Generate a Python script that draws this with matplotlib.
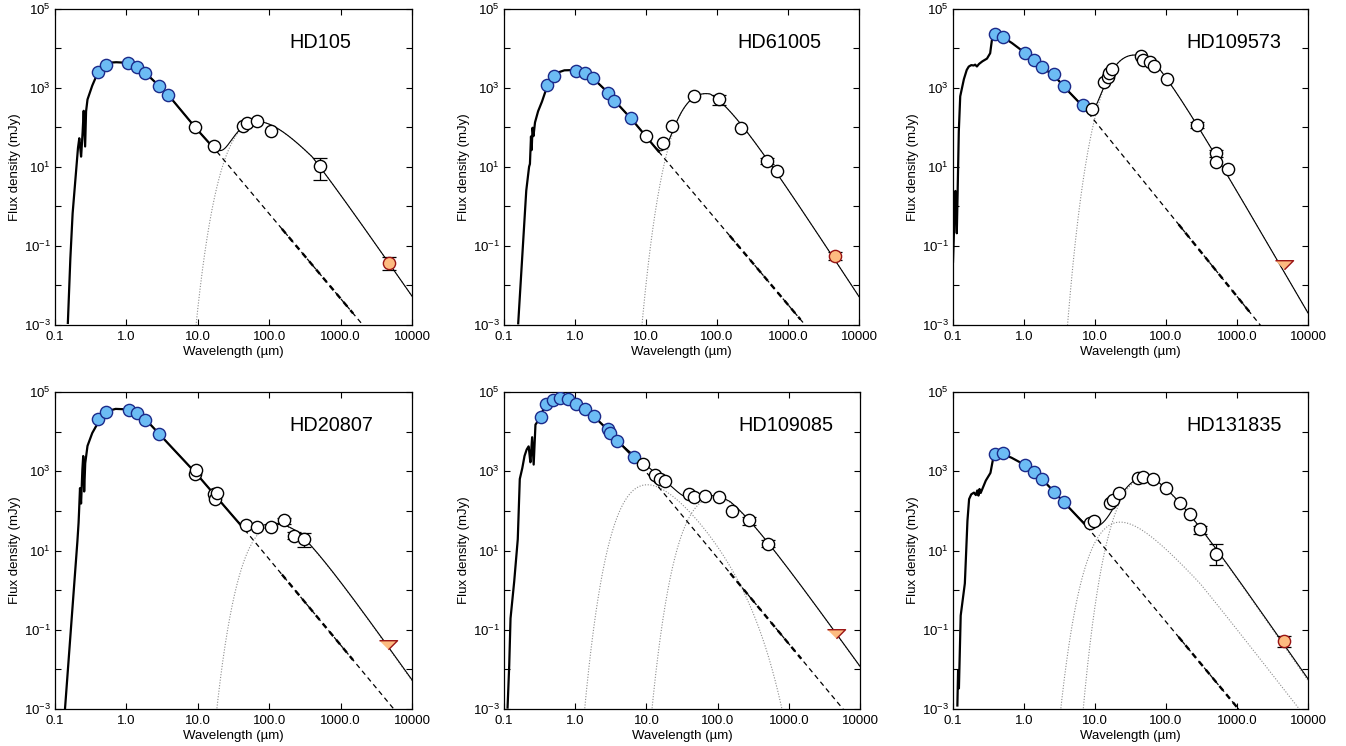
import numpy as np
import matplotlib
matplotlib.use("Agg")
import matplotlib.pyplot as plt
from matplotlib.ticker import FixedLocator, NullLocator, FixedFormatter

plt.rcParams['font.family'] = ['Liberation Sans', 'DejaVu Sans']
plt.rcParams['mathtext.fontset'] = 'custom'
plt.rcParams['mathtext.rm'] = 'Liberation Sans'
plt.rcParams['mathtext.it'] = 'Liberation Sans:italic'
plt.rcParams['mathtext.bf'] = 'Liberation Sans:bold'
plt.rcParams['mathtext.default'] = 'regular'

# ------------------------------------------------------------------ data
x_ticks = [0.1, 1, 10, 100, 1000, 10000]
x_ticklabels = ['0.1', '1.0', '10.0', '100.0', '1000.0', '10000']
y_ticks = [1e-3, 1e-2, 1e-1, 1e0, 1e1, 1e2, 1e3, 1e4, 1e5]
y_ticklabels = ['$10^{-3}$', '', '$10^{-1}$', '', '$10^{1}$', '', '$10^{3}$', '', '$10^{5}$']

# ---- HD105
hd105_opt_wl = [0.40, 0.51, 1.07, 1.43, 1.85, 2.85, 3.85]
hd105_opt_fx = [2590, 3820, 4220, 3470, 2360, 1150, 665]
hd105_ir_wl = [9.0, 16.6, 42.4, 48.8, 68, 107, 521]
hd105_ir_fx = [105, 34, 109, 128, 149, 81.5, 10.8]
hd105_err_wl = [521]
hd105_err_lo = [4.7]
hd105_err_hi = [16.6]
hd105_mm = [4730, 0.038, 0.0247, 0.052, 0]   # wl, flux, lo, hi, upper-limit flag
hd105_star_wl = [0.151, 0.162, 0.175, 0.191, 0.208, 0.219, 0.232, 0.242, 0.252, 0.264, 0.272,
                 0.284, 0.327, 0.384, 0.45, 0.55, 0.7, 0.9, 1.07, 1.43, 1.85, 2.85, 3.85, 9.0,
                 18.5, 2050]
hd105_star_fx = [1e-3, 0.03, 0.55, 3.9, 27, 54, 18, 59, 276, 32, 250,
                 500, 1070, 2140, 3700, 4350, 4500, 4420, 4250, 3450, 2400, 1150, 670, 105,
                 24.5, 1e-3]
hd105_dust_T = [74]
hd105_dust_lam0 = [400]
hd105_dust_beta = [0.6]
hd105_dust_cut = [0]
hd105_dust_peak = [140]
hd105_dash_from = 18.5

# ---- HD61005
hd61005_opt_wl = [0.40, 0.51, 1.045, 1.38, 1.81, 2.94, 3.6, 6.18]
hd61005_opt_fx = [1190, 2010, 2740, 2360, 1760, 760, 477, 171]
hd61005_ir_wl = [10.0, 17.5, 23.5, 47.7, 105, 216, 510, 697]
hd61005_ir_fx = [62, 41, 109, 627, 518, 95, 14.5, 7.9]
hd61005_err_wl = [105, 510]
hd61005_err_lo = [372, 12]
hd61005_err_hi = [665, 17]
hd61005_mm = [4530, 0.057, 0.043, 0.072, 0]
hd61005_star_wl = [0.158, 0.177, 0.204, 0.225, 0.232, 0.240, 0.245, 0.252, 0.26, 0.272, 0.30,
                   0.338, 0.397, 0.45, 0.55, 0.7, 0.9, 1.045, 1.38, 1.81, 2.94, 3.6, 6.18,
                   15.1, 1667]
hd61005_star_fx = [1e-3, 0.03, 2.2, 10, 12, 60, 25, 100, 60, 130, 250,
                   420, 1000, 1700, 2400, 2800, 2850, 2750, 2330, 1740, 760, 480, 168,
                   24.4, 1.1e-3]
hd61005_dust_T = [73]
hd61005_dust_lam0 = [80]
hd61005_dust_beta = [0.75]
hd61005_dust_cut = [0]
hd61005_dust_peak = [720]
hd61005_dash_from = 15.0

# ---- HD109573
hd109573_opt_wl = [0.39, 0.50, 1.035, 1.37, 1.80, 2.67, 3.62, 6.7]
hd109573_opt_fx = [23300, 19900, 7830, 5120, 3340, 2220, 1140, 365]
hd109573_ir_wl = [8.96, 13.3, 15.0, 15.7, 17.1, 44.2, 48.2, 60.4, 67.1, 103, 276, 510, 499, 743]
hd109573_ir_fx = [289, 1440, 1870, 2440, 3030, 6460, 5110, 4640, 3610, 1690, 116, 22.2, 13.6, 8.7]
hd109573_err_wl = [276, 510]
hd109573_err_lo = [95, 18]
hd109573_err_hi = [140, 27]
hd109573_mm = [4540, 0.036, 0, 0, 1]
hd109573_star_wl = [0.100, 0.104, 0.108, 0.111, 0.113, 0.115, 0.12, 0.126, 0.141, 0.155, 0.166,
                    0.180, 0.195, 0.205, 0.217, 0.23, 0.255, 0.30, 0.334, 0.353, 0.393, 0.42,
                    0.5, 0.65, 0.8, 1.035, 1.37, 1.8, 2.67, 3.62, 6.7, 2120]
hd109573_star_fx = [0.04, 0.4, 2.5, 1.0, 0.2, 0.8, 60, 600, 1580, 2800, 3470,
                    3800, 3700, 3900, 3500, 4000, 4650, 5500, 7600, 16600, 18300, 21000,
                    19500, 14500, 11000, 7700, 5000, 3300, 2050, 1100, 350, 1e-3]
hd109573_dust_T = [140]
hd109573_dust_lam0 = [65]
hd109573_dust_beta = [1.1]
hd109573_dust_cut = [0]
hd109573_dust_peak = [6840]
hd109573_dash_from = 8.0

# ---- HD20807
hd20807_opt_wl = [0.40, 0.51, 1.08, 1.43, 1.85, 2.89]
hd20807_opt_fx = [20800, 31300, 35100, 29500, 20000, 8690]
hd20807_ir_wl = [9.0, 9.4, 16.6, 17.5, 18.5, 47.7, 68, 107, 161, 223, 311]
hd20807_ir_fx = [850, 1090, 265, 202, 281, 42.8, 38.1, 40.3, 57.3, 23.9, 19.7]
hd20807_err_wl = [161, 223, 311]
hd20807_err_lo = [48, 19.5, 12.2]
hd20807_err_hi = [68, 29, 27.5]
hd20807_mm = [4630, 0.043, 0, 0, 1]
hd20807_star_wl = [0.138, 0.162, 0.197, 0.212, 0.215, 0.224, 0.232, 0.240, 0.249, 0.256, 0.264,
                   0.284, 0.33, 0.385, 0.45, 0.55, 0.7, 0.9, 1.08, 1.43, 1.85, 2.89, 9.0,
                   47.7, 5560]
hd20807_star_fx = [1e-3, 0.048, 5.3, 37, 60, 380, 150, 900, 2600, 300, 1500,
                   4270, 9000, 14900, 24000, 33000, 37500, 37000, 35000, 29000, 20500, 8700, 985,
                   30, 1e-3]
hd20807_dust_T = [40.5]
hd20807_dust_lam0 = [250]
hd20807_dust_beta = [0.55]
hd20807_dust_cut = [0]
hd20807_dust_peak = [45]
hd20807_dash_from = 45.0

# ---- HD109085
hd109085_opt_wl = [0.327, 0.394, 0.489, 0.620, 0.793, 1.04, 1.37, 1.82, 2.86, 3.12, 3.92, 6.70]
hd109085_opt_fx = [22900, 49700, 64000, 70200, 67700, 50700, 37200, 24200, 11600, 9230, 5890, 2230]
hd109085_ir_wl = [8.96, 13.4, 15.7, 18.1, 39.6, 46.7, 65.9, 103, 158, 276, 510]
hd109085_ir_fx = [1520, 817, 647, 576, 271, 218, 240, 218, 96.7, 57.3, 14.8]
hd109085_err_wl = [276, 510]
hd109085_err_lo = [45, 12]
hd109085_err_hi = [72, 18]
hd109085_mm = [4560, 0.085, 0, 0, 1]
hd109085_star_wl = [0.112, 0.118, 0.123, 0.137, 0.156, 0.166, 0.179, 0.193, 0.207, 0.222, 0.235,
                    0.248, 0.261, 0.276, 0.331, 0.36, 0.394, 0.489, 0.62, 0.79, 1.04, 1.37,
                    1.82, 2.86, 3.92, 6.7, 5770]
hd109085_star_fx = [1e-3, 0.01, 0.18, 1.2, 18.6, 620, 1090, 2350, 3470, 4270, 1620,
                    7600, 1450, 14900, 24000, 40000, 50000, 63000, 69000, 66000, 51000, 37000,
                    24500, 11200, 5900, 2230, 1e-3]
hd109085_dust_T = [481, 57]
hd109085_dust_lam0 = [0, 150]
hd109085_dust_beta = [0, 0.5]
hd109085_dust_cut = [130, 0]
hd109085_dust_peak = [456, 215]
hd109085_dash_from = 8.5

# ---- HD131835
hd131835_opt_wl = [0.39, 0.50, 1.035, 1.37, 1.80, 2.67, 3.62]
hd131835_opt_fx = [2690, 2850, 1450, 960, 627, 299, 167]
hd131835_ir_wl = [8.47, 9.66, 16.2, 17.7, 21.9, 40.5, 47.5, 65.6, 101, 159, 217, 304, 510]
hd131835_ir_fx = [50.4, 55.2, 161, 185, 289, 693, 735, 627, 371, 155, 81.5, 35.4, 8.4]
hd131835_err_wl = [304, 510]
hd131835_err_lo = [25.8, 4.2]
hd131835_err_hi = [41.7, 15]
hd131835_mm = [4650, 0.0506, 0.036, 0.068, 0]
hd131835_star_wl = [0.115, 0.118, 0.121, 0.128, 0.147, 0.159, 0.168, 0.18, 0.197, 0.21, 0.22,
                    0.228, 0.236, 0.245, 0.287, 0.337, 0.365, 0.397, 0.45, 0.5, 0.65, 0.8,
                    1.035, 1.37, 1.8, 2.67, 3.62, 7.6, 1026]
hd131835_star_fx = [1e-3, 0.01, 0.003, 0.22, 1.5, 50, 195, 260, 290, 250, 330,
                    240, 360, 280, 565, 910, 2000, 2450, 2750, 2700, 2250, 1850,
                    1420, 960, 630, 300, 168, 41, 1.05e-3]
hd131835_dust_T = [225, 94]
hd131835_dust_lam0 = [300, 60]
hd131835_dust_beta = [0.3, 0.6]
hd131835_dust_cut = [0, 0]
hd131835_dust_peak = [52, 690]
hd131835_dash_from = 7.6

panels = [
    dict(name='HD105', opt_wl=hd105_opt_wl, opt_fx=hd105_opt_fx, ir_wl=hd105_ir_wl, ir_fx=hd105_ir_fx,
         err_wl=hd105_err_wl, err_lo=hd105_err_lo, err_hi=hd105_err_hi, mm=hd105_mm,
         star_wl=hd105_star_wl, star_fx=hd105_star_fx, dT=hd105_dust_T, dl0=hd105_dust_lam0,
         db=hd105_dust_beta, dc=hd105_dust_cut, dp=hd105_dust_peak, dash=hd105_dash_from),
    dict(name='HD61005', opt_wl=hd61005_opt_wl, opt_fx=hd61005_opt_fx, ir_wl=hd61005_ir_wl, ir_fx=hd61005_ir_fx,
         err_wl=hd61005_err_wl, err_lo=hd61005_err_lo, err_hi=hd61005_err_hi, mm=hd61005_mm,
         star_wl=hd61005_star_wl, star_fx=hd61005_star_fx, dT=hd61005_dust_T, dl0=hd61005_dust_lam0,
         db=hd61005_dust_beta, dc=hd61005_dust_cut, dp=hd61005_dust_peak, dash=hd61005_dash_from),
    dict(name='HD109573', opt_wl=hd109573_opt_wl, opt_fx=hd109573_opt_fx, ir_wl=hd109573_ir_wl, ir_fx=hd109573_ir_fx,
         err_wl=hd109573_err_wl, err_lo=hd109573_err_lo, err_hi=hd109573_err_hi, mm=hd109573_mm,
         star_wl=hd109573_star_wl, star_fx=hd109573_star_fx, dT=hd109573_dust_T, dl0=hd109573_dust_lam0,
         db=hd109573_dust_beta, dc=hd109573_dust_cut, dp=hd109573_dust_peak, dash=hd109573_dash_from),
    dict(name='HD20807', opt_wl=hd20807_opt_wl, opt_fx=hd20807_opt_fx, ir_wl=hd20807_ir_wl, ir_fx=hd20807_ir_fx,
         err_wl=hd20807_err_wl, err_lo=hd20807_err_lo, err_hi=hd20807_err_hi, mm=hd20807_mm,
         star_wl=hd20807_star_wl, star_fx=hd20807_star_fx, dT=hd20807_dust_T, dl0=hd20807_dust_lam0,
         db=hd20807_dust_beta, dc=hd20807_dust_cut, dp=hd20807_dust_peak, dash=hd20807_dash_from),
    dict(name='HD109085', opt_wl=hd109085_opt_wl, opt_fx=hd109085_opt_fx, ir_wl=hd109085_ir_wl, ir_fx=hd109085_ir_fx,
         err_wl=hd109085_err_wl, err_lo=hd109085_err_lo, err_hi=hd109085_err_hi, mm=hd109085_mm,
         star_wl=hd109085_star_wl, star_fx=hd109085_star_fx, dT=hd109085_dust_T, dl0=hd109085_dust_lam0,
         db=hd109085_dust_beta, dc=hd109085_dust_cut, dp=hd109085_dust_peak, dash=hd109085_dash_from),
    dict(name='HD131835', opt_wl=hd131835_opt_wl, opt_fx=hd131835_opt_fx, ir_wl=hd131835_ir_wl, ir_fx=hd131835_ir_fx,
         err_wl=hd131835_err_wl, err_lo=hd131835_err_lo, err_hi=hd131835_err_hi, mm=hd131835_mm,
         star_wl=hd131835_star_wl, star_fx=hd131835_star_fx, dT=hd131835_dust_T, dl0=hd131835_dust_lam0,
         db=hd131835_dust_beta, dc=hd131835_dust_cut, dp=hd131835_dust_peak, dash=hd131835_dash_from),
]

# ------------------------------------------------------------------ models
grid = np.logspace(-1, 4, 3000)


def star_model(wl, fx):
    lw = np.log10(wl)
    lf = np.log10(fx)
    lg = np.log10(grid)
    out = np.interp(lg, lw, lf)
    slope = (lf[-1] - lf[-2]) / (lw[-1] - lw[-2])
    hi = lg > lw[-1]
    out[hi] = lf[-1] + slope * (lg[hi] - lw[-1])
    res = 10 ** out
    res[lg < lw[0]] = np.nan
    return res


def dust_model(T, lam0, beta, cut, peak):
    x = 14388.0 / (grid * T)
    g = x ** 3 / np.expm1(np.minimum(x, 700))
    if lam0 > 0:
        g = g * np.where(grid > lam0, (lam0 / grid) ** beta, 1.0)
    if cut > 0:
        g = g * np.exp(-grid / cut)
    return peak * g / g.max()


# ------------------------------------------------------------------ figure
fig = plt.figure(figsize=(13.46, 7.46), dpi=100)
W, H = 1346.0, 746.0
boxes = [(55, 9, 357, 316), (504, 9, 355, 316), (953, 9, 355, 316),
         (55, 392, 357, 317), (504, 392, 356, 317), (953, 392, 355, 317)]

blue_face, blue_edge = '#6cbcf4', '#1b2a8a'
or_face, or_edge = '#fdbb80', '#9a1414'
tri = [(-1.0, 0.42), (1.0, 0.42), (0.0, -0.58)]
FS = 9.5

for p, (l, t, w, h) in zip(panels, boxes):
    ax = fig.add_axes([l / W, 1 - (t + h) / H, w / W, h / H])
    ax.set_xscale('log')
    ax.set_yscale('log')

    star = star_model(p['star_wl'], p['star_fx'])
    dusts = [dust_model(T, l0, b, c, pk) for T, l0, b, c, pk in
             zip(p['dT'], p['dl0'], p['db'], p['dc'], p['dp'])]
    total = np.nan_to_num(star) + sum(dusts)

    solid = grid <= p['dash']
    ax.plot(grid[solid], star[solid], color='black', lw=1.6, zorder=3)
    tail = grid >= p['dash']
    ax.plot(grid[tail], star[tail], color='black', lw=0.9, ls=(0, (4, 3)), zorder=3)
    bold = (grid >= 150) & (grid <= 1500)
    ax.plot(grid[bold], star[bold], color='black', lw=1.7, ls=(0, (2.5, 2)), zorder=3)
    for d in dusts:
        ax.plot(grid, d, color='#8c8c8c', lw=0.8, ls=(0, (1, 1.5)), zorder=2)
    tm = grid >= 2.0
    ax.plot(grid[tm], total[tm], color='black', lw=0.8, zorder=3)

    # error bars
    ir_wl = np.array(p['ir_wl'])
    ir_fx = np.array(p['ir_fx'])
    for wl, lo, hi in zip(p['err_wl'], p['err_lo'], p['err_hi']):
        idx = np.argmin(np.abs(ir_wl - wl))
        fy = ir_fx[idx]
        ax.errorbar([wl], [fy], yerr=[[fy - lo], [hi - fy]], fmt='none', ecolor='black',
                    elinewidth=0.9, capsize=5, capthick=0.9, zorder=4)

    ax.plot(p['opt_wl'], p['opt_fx'], 'o', ms=8.8, mfc=blue_face, mec=blue_edge, mew=1.0, zorder=6)
    ax.plot(ir_wl, ir_fx, 'o', ms=8.8, mfc='white', mec='black', mew=1.0, zorder=6)

    mwl, mfx, mlo, mhi, lim = p['mm']
    if lim:
        ax.plot([mwl], [mfx], marker=tri, ms=13, mfc=or_face, mec=or_edge, mew=1.0, ls='none', zorder=6)
    else:
        ax.errorbar([mwl], [mfx], yerr=[[mfx - mlo], [mhi - mfx]], fmt='none', ecolor='black',
                    elinewidth=0.9, capsize=5, capthick=0.9, zorder=4)
        ax.plot([mwl], [mfx], 'o', ms=8.8, mfc=or_face, mec=or_edge, mew=1.0, zorder=6)

    ax.set_xlim(0.1, 1e4)
    ax.set_ylim(1e-3, 1e5)
    ax.xaxis.set_major_locator(FixedLocator(x_ticks))
    ax.xaxis.set_major_formatter(FixedFormatter(x_ticklabels))
    ax.xaxis.set_minor_locator(NullLocator())
    ax.yaxis.set_major_locator(FixedLocator(y_ticks))
    ax.yaxis.set_major_formatter(FixedFormatter(y_ticklabels))
    ax.yaxis.set_minor_locator(NullLocator())
    ax.tick_params(which='both', direction='in', top=True, right=True, length=4, width=0.8,
                   labelsize=FS, pad=3)
    ax.tick_params(axis='x', pad=4)
    for s in ax.spines.values():
        s.set_linewidth(0.9)

    ax.set_xlabel('Wavelength (µm)', fontsize=FS)
    ax.set_ylabel('Flux density (mJy)', fontsize=FS)
    ax.xaxis.set_label_coords(0.5, -0.066)
    ax.yaxis.set_label_coords(-0.096, 0.5)
    ax.text(0.657, 0.893, p['name'], transform=ax.transAxes, fontsize=14.3, ha='left', va='center')

fig.savefig('out.png', dpi=100)
